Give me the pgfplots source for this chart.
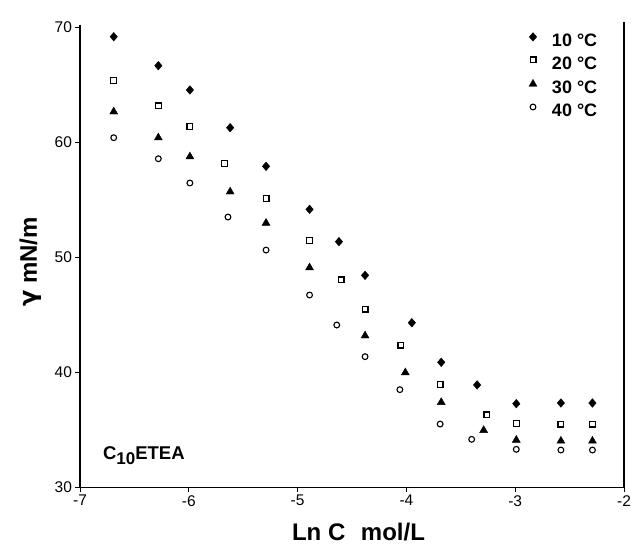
\documentclass[border=0pt]{standalone}
\usepackage{fontspec}
\setmainfont{Liberation Sans}
\newfontfamily\dejavu{DejaVu Sans}
\usepackage{pgfplots}
\pgfplotsset{compat=1.18}
\begin{document}
\begin{tikzpicture}
\useasboundingbox (0,0) rectangle (633pt,545pt);
\begin{axis}[
  at={(80pt,57.7pt)}, anchor=south west,
  scale only axis, width=544pt, height=462.3pt,
  xmin=-7, xmax=-2, ymin=30, ymax=70.2,
  clip=false,
  axis x line*=bottom, axis y line*=left,
  axis line style={-, line width=1.5pt},
  xtick={-7,-6,-5,-4,-3,-2}, xticklabels={-7,-6,-5,-4,-3,-2},
  ytick={30,40,50,60,70},
  tick align=outside, major tick length=4.5pt,
  tick style={line width=1pt, black},
  ticklabel style={font=\fontsize{15.5}{18}\selectfont},
  /pgf/number format/assume math mode=true,
  xlabel={Ln C\hspace{0.65em}mol/L},
  ylabel={{\dejavu γ} mN/m},
  label style={font=\bfseries\fontsize{24}{28}\selectfont},
  xlabel style={at={([yshift=-53.5pt]axis description cs:0.512,0)}, anchor=base},
  ylabel style={at={([xshift=-43pt]axis description cs:0,0.487)}, anchor=base, rotate=0},
  legend style={draw=none, fill=none, at={(axis description cs:0.825,0.984)}, anchor=north west,
    font=\bfseries\fontsize{18}{21}\selectfont, row sep=6pt, inner sep=0pt,
    nodes={inner sep=0pt, text height=13pt, text depth=4pt}, cells={anchor=west}},
  legend image code/.code={\draw[#1] plot coordinates {(4pt,5pt)}; \path[draw=none,fill=none] (0pt,0pt) rectangle (23pt,8pt);},
]
\addplot[only marks, mark=diamond*, mark size=4.3pt, black, mark options={xscale=1.15}] coordinates {
(-6.69,69.18) (-6.28,66.66) (-5.99,64.55) (-5.62,61.27) (-5.29,57.91) (-4.89,54.17) (-4.62,51.36)
(-4.38,48.43) (-3.95,44.31) (-3.68,40.87) (-3.35,38.90) (-2.99,37.27) (-2.58,37.33) (-2.29,37.33)};
\addlegendentry{10 °C}
\addplot[only marks, mark=square, mark size=2.9pt, black, mark options={line width=1.2pt, fill=white}] coordinates {
(-6.69,65.36) (-6.28,63.16) (-5.99,61.39) (-5.67,58.17) (-5.29,55.13) (-4.89,51.48) (-4.60,48.03)
(-4.38,45.50) (-4.05,42.37) (-3.69,38.92) (-3.26,36.29) (-2.99,35.56) (-2.58,35.50) (-2.29,35.50)};
\addlegendentry{20 °C}
\addplot[only marks, mark=triangle*, mark size=4.6pt, black] coordinates {
(-6.69,62.66) (-6.28,60.40) (-5.99,58.75) (-5.62,55.70) (-5.29,52.98) (-4.89,49.10)
(-4.38,43.18) (-4.01,39.97) (-3.68,37.39) (-3.29,34.96) (-2.99,34.11) (-2.58,34.03) (-2.29,34.03)};
\addlegendentry{30 °C}
\addplot[only marks, mark=o, mark size=2.9pt, black, mark options={line width=1.1pt}] coordinates {
(-6.69,60.40) (-6.28,58.57) (-5.99,56.46) (-5.64,53.50) (-5.29,50.63) (-4.89,46.72) (-4.64,44.11)
(-4.38,41.36) (-4.06,38.49) (-3.69,35.50) (-3.40,34.17) (-2.99,33.30) (-2.58,33.24) (-2.29,33.24)};
\addlegendentry{40 °C}
\draw[line width=1.5pt] (rel axis cs:1,0) -- (rel axis cs:1,1.006);
\node[anchor=base west, font=\bfseries\fontsize{18.5}{21}\selectfont, inner sep=0pt] at (axis cs:-6.79,32.43)
  {C\raisebox{-5pt}{\fontsize{17}{19}\selectfont 10}ETEA};
\end{axis}
\end{tikzpicture}
\end{document}
